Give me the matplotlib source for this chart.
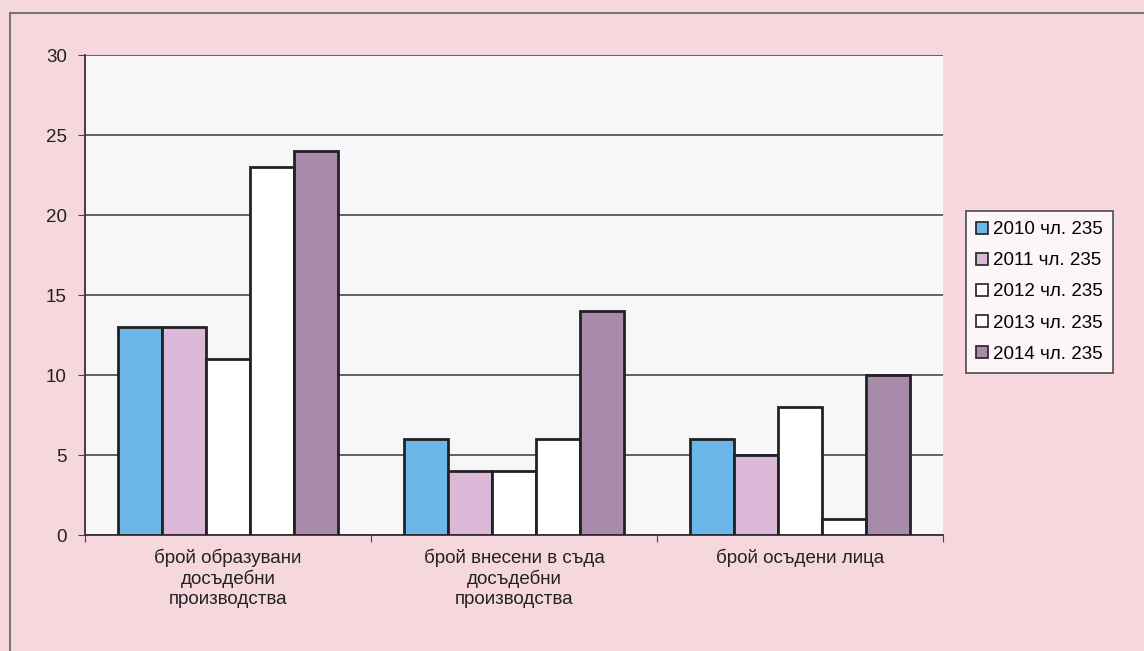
import numpy as np
import matplotlib.pyplot as plt
from matplotlib.patches import Rectangle

plt.rcParams['font.family'] = ['Liberation Sans', 'DejaVu Sans']

categories = ['брой образувани\nдосъдебни\nпроизводства',
              'брой внесени в съда\nдосъдебни\nпроизводства',
              'брой осъдени лица']
series = ['2010 чл. 235', '2011 чл. 235', '2012 чл. 235', '2013 чл. 235', '2014 чл. 235']
values = [
    [13, 6, 6],
    [13, 4, 5],
    [11, 4, 8],
    [23, 6, 1],
    [24, 14, 10],
]
colors = ['#6db6ea', '#dcb8d8', '#ffffff', '#ffffff', '#a88aab']

fig = plt.figure(figsize=(11.44, 6.51), dpi=100)
fig.patch.set_facecolor('#f7d7de')
fig.patches.append(Rectangle((10 / 1144, -0.05), 1.1, (651 - 13) / 651 + 0.05,
                             transform=fig.transFigure, fill=False,
                             edgecolor='#777777', linewidth=1.5))

ax = fig.add_axes([85 / 1144, 116 / 651, 858 / 1144, 480 / 651])
ax.set_facecolor('#f7f7fa')

x = np.arange(len(categories))
width = 0.154
for i, (name, vals) in enumerate(zip(series, values)):
    offset = (i - 2) * width
    ax.bar(x + offset, vals, width, color=colors[i], edgecolor='#222222',
           linewidth=2, label=name, zorder=3)

ax.set_xlim(-0.5, 2.5)
ax.set_ylim(0, 30)
ax.set_yticks(range(0, 31, 5))
ax.yaxis.grid(True, color='#555555', linewidth=1.3, zorder=0)
ax.set_xticks([-0.5, 0.5, 1.5, 2.5], minor=False)
ax.set_xticklabels([])
ax.set_xticks(x, minor=True)
ax.set_xticklabels(categories, minor=True, fontsize=13.5, linespacing=1.2,
                   color='#222222')
ax.tick_params(axis='x', which='minor', length=0, pad=10)
ax.tick_params(axis='x', which='major', length=5, color='#444444')
ax.tick_params(axis='y', length=5, labelsize=13.5, color='#444444', pad=8,
               labelcolor='#222222')
for s in ['top', 'right']:
    ax.spines[s].set_visible(False)
ax.spines['left'].set_color('#333333')
ax.spines['bottom'].set_color('#333333')
ax.spines['left'].set_linewidth(1.3)
ax.spines['bottom'].set_linewidth(1.3)

leg = fig.legend(loc='upper left', bbox_to_anchor=(966 / 1144, 1 - 211 / 651),
                 fontsize=13.5, frameon=True, fancybox=False, edgecolor='#222222',
                 handlelength=0.6, handleheight=0.6, handletextpad=0.3,
                 labelspacing=0.75, borderpad=0.55, borderaxespad=0)
leg.get_frame().set_linewidth(1.2)
for h in leg.legend_handles:
    h.set_linewidth(1.2)

fig.savefig('out.png', dpi=100, facecolor=fig.get_facecolor())
